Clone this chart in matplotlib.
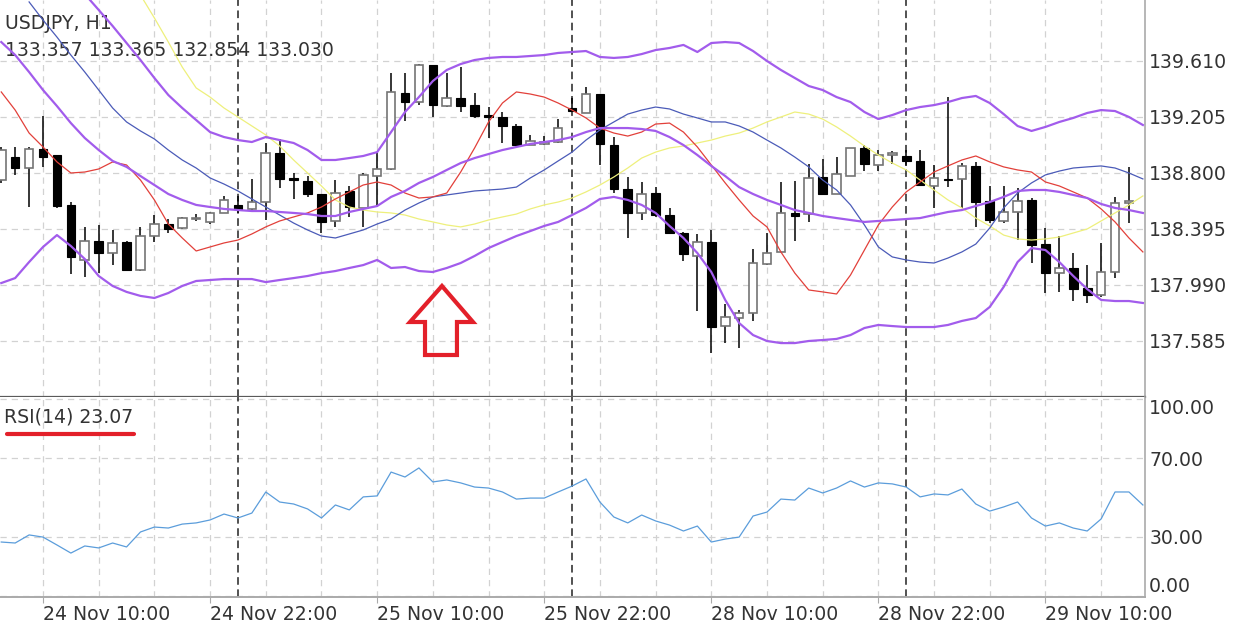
import numpy as np
import matplotlib
matplotlib.use("Agg")
import matplotlib.pyplot as plt
from matplotlib.patches import Polygon
from matplotlib.ticker import MultipleLocator

nan = np.nan

### USDJPY H1 -- bar 0 is 24 Nov 10:00, first bar on screen is 24 Nov 07:00
first_bar = -3

opens = [138.749, 138.915, 138.836, 138.973, 138.930, 138.569, 138.171, 138.308, 138.221, 138.301,
         138.098, 138.344, 138.431, 138.402, 138.467, 138.446, 138.511, 138.569, 138.540, 138.590,
         138.944, 138.764, 138.742, 138.648, 138.453, 138.670, 138.547, 138.778, 138.829, 139.378,
         139.313, 139.581, 139.284, 139.342, 139.291, 139.212, 139.205, 139.140, 139.002, 139.010,
         139.024, 139.270, 139.234, 139.371, 139.002, 138.684, 138.511, 138.655, 138.496, 138.366,
         138.200, 138.301, 137.693, 137.751, 137.787, 138.142, 138.229, 138.511, 138.503, 138.771,
         138.648, 138.778, 138.981, 138.858, 138.930, 138.923, 138.887, 138.706, 138.757, 138.757,
         138.851, 138.598, 138.453, 138.518, 138.605, 138.286, 138.076, 138.113, 137.968, 137.918,
         138.084, 138.583]
highs = [138.988, 138.988, 138.988, 139.212, 138.930, 138.590, 138.410, 138.424, 138.388, 138.308,
         138.410, 138.496, 138.467, 138.482, 138.503, 138.518, 138.634, 138.634, 138.757, 139.017,
         139.046, 138.800, 138.778, 138.648, 138.749, 138.706, 138.800, 138.944, 139.523, 139.523,
         139.588, 139.581, 139.523, 139.566, 139.378, 139.277, 139.241, 139.154, 139.075, 139.067,
         139.190, 139.342, 139.422, 139.371, 139.060, 138.771, 138.735, 138.698, 138.547, 138.373,
         138.359, 138.388, 137.853, 137.809, 138.250, 138.366, 138.735, 138.742, 138.865, 138.901,
         138.915, 138.981, 139.002, 138.966, 138.959, 138.966, 138.966, 138.858, 139.349, 138.872,
         138.880, 138.706, 138.706, 138.692, 138.619, 138.402, 138.344, 138.221, 138.134, 138.294,
         138.627, 138.844]
lows = [138.728, 138.786, 138.554, 138.844, 138.547, 138.069, 138.048, 138.076, 138.134, 138.091,
        138.091, 138.301, 138.366, 138.395, 138.453, 138.431, 138.511, 138.511, 138.532, 138.460,
        138.692, 138.612, 138.627, 138.366, 138.410, 138.482, 138.410, 138.554, 138.822, 139.176,
        139.291, 139.205, 139.277, 139.241, 139.198, 139.053, 139.017, 139.002, 139.002, 139.002,
        139.017, 139.241, 139.234, 138.858, 138.655, 138.330, 138.460, 138.482, 138.359, 138.164,
        137.802, 137.498, 137.570, 137.534, 137.730, 138.134, 138.229, 138.308, 138.446, 138.648,
        138.648, 138.778, 138.814, 138.814, 138.865, 138.851, 138.713, 138.547, 138.698, 138.547,
        138.410, 138.438, 138.438, 138.315, 138.149, 137.932, 137.939, 137.874, 137.860, 137.903,
        138.040, 138.438]
closes = [138.966, 138.836, 138.973, 138.915, 138.561, 138.193, 138.308, 138.221, 138.294, 138.098,
          138.344, 138.431, 138.395, 138.474, 138.474, 138.511, 138.605, 138.540, 138.590, 138.944,
          138.757, 138.749, 138.648, 138.446, 138.655, 138.554, 138.786, 138.829, 139.386, 139.313,
          139.581, 139.291, 139.342, 139.284, 139.212, 139.205, 139.140, 139.002, 139.031, 139.012,
          139.125, 139.248, 139.371, 139.010, 138.684, 138.511, 138.648, 138.496, 138.366, 138.214,
          138.301, 137.686, 137.758, 137.787, 138.149, 138.221, 138.511, 138.489, 138.764, 138.648,
          138.793, 138.981, 138.865, 138.930, 138.932, 138.887, 138.713, 138.764, 138.749, 138.851,
          138.590, 138.460, 138.518, 138.598, 138.279, 138.076, 138.113, 137.961, 137.918, 138.084,
          138.583, 138.586]

# bollinger bands (purple)
bb_upper = [nan, nan, nan, nan, 140.326, 140.210, 140.094, 139.979, 139.863, 139.740,
            139.617, 139.487, 139.364, 139.270, 139.183, 139.096, 139.060, 139.038, 139.024, 139.060,
            139.038, 139.017, 138.966, 138.894, 138.894, 138.908, 138.923, 138.951, 139.096, 139.241,
            139.349, 139.465, 139.545, 139.588, 139.617, 139.632, 139.639, 139.639, 139.646, 139.653,
            139.668, 139.675, 139.682, 139.639, 139.632, 139.639, 139.660, 139.689, 139.704, 139.726,
            139.675, 139.740, 139.747, 139.740, 139.682, 139.610, 139.545, 139.487, 139.429, 139.400,
            139.349, 139.313, 139.241, 139.190, 139.219, 139.255, 139.277, 139.291, 139.313, 139.342,
            139.357, 139.306, 139.226, 139.140, 139.104, 139.133, 139.169, 139.198, 139.234, 139.255,
            139.248, 139.205, 139.147]
bb_mid = [139.747, 139.653, 139.530, 139.400, 139.284, 139.161, 139.053, 138.966, 138.887, 138.844,
          138.778, 138.713, 138.648, 138.605, 138.569, 138.554, 138.540, 138.532, 138.525, 138.525,
          138.518, 138.511, 138.503, 138.489, 138.489, 138.518, 138.540, 138.561, 138.627, 138.670,
          138.728, 138.771, 138.822, 138.872, 138.908, 138.937, 138.966, 138.988, 139.010, 139.024,
          139.038, 139.060, 139.096, 139.125, 139.125, 139.125, 139.118, 139.104, 139.060, 139.002,
          138.930, 138.851, 138.778, 138.698, 138.648, 138.605, 138.569, 138.532, 138.511, 138.489,
          138.474, 138.460, 138.446, 138.453, 138.460, 138.467, 138.474, 138.496, 138.518, 138.532,
          138.561, 138.590, 138.627, 138.670, 138.677, 138.677, 138.663, 138.641, 138.619, 138.576,
          138.547, 138.532, 138.511]
bb_lower = [138.004, 138.040, 138.156, 138.265, 138.351, 138.272, 138.178, 138.055, 137.983, 137.940,
            137.911, 137.896, 137.932, 137.983, 138.019, 138.026, 138.033, 138.033, 138.033, 138.011,
            138.026, 138.040, 138.055, 138.076, 138.091, 138.113, 138.134, 138.171, 138.113, 138.120,
            138.091, 138.084, 138.113, 138.149, 138.200, 138.257, 138.301, 138.344, 138.380, 138.417,
            138.446, 138.496, 138.547, 138.612, 138.627, 138.605, 138.569, 138.511, 138.417, 138.330,
            138.221, 138.084, 137.882, 137.715, 137.628, 137.585, 137.570, 137.570, 137.585, 137.592,
            137.600, 137.628, 137.679, 137.701, 137.693, 137.686, 137.686, 137.686, 137.701, 137.730,
            137.751, 137.831, 137.976, 138.156, 138.257, 138.243, 138.156, 138.055, 137.961, 137.882,
            137.874, 137.874, 137.860]

# moving averages
ma_red = [139.386, 139.255, 139.089, 138.988, 138.880, 138.800, 138.807, 138.829, 138.880, 138.858,
          138.749, 138.605, 138.431, 138.330, 138.236, 138.265, 138.294, 138.315, 138.359, 138.410,
          138.453, 138.482, 138.511, 138.554, 138.612, 138.663, 138.713, 138.735, 138.713, 138.655,
          138.619, 138.627, 138.655, 138.807, 138.981, 139.169, 139.306, 139.386, 139.371, 139.349,
          139.306, 139.255, 139.198, 139.125, 139.089, 139.067, 139.096, 139.154, 139.161, 139.096,
          138.988, 138.858, 138.728, 138.605, 138.489, 138.410, 138.229, 138.076, 137.954, 137.940,
          137.925, 138.062, 138.243, 138.424, 138.554, 138.663, 138.735, 138.807, 138.851, 138.894,
          138.923, 138.880, 138.844, 138.822, 138.807, 138.735, 138.706, 138.663, 138.619, 138.540,
          138.446, 138.330, 138.229]
ma_blue = [nan, nan, 140.037, 139.906, 139.783, 139.653, 139.530, 139.400, 139.270, 139.169,
           139.104, 139.046, 138.966, 138.894, 138.836, 138.764, 138.720, 138.670, 138.612, 138.554,
           138.496, 138.438, 138.388, 138.344, 138.330, 138.359, 138.388, 138.431, 138.467, 138.532,
           138.583, 138.627, 138.641, 138.655, 138.670, 138.677, 138.684, 138.698, 138.764, 138.822,
           138.887, 138.951, 139.038, 139.111, 139.169, 139.226, 139.255, 139.277, 139.263, 139.226,
           139.198, 139.169, 139.169, 139.140, 139.096, 139.038, 138.981, 138.915, 138.844, 138.749,
           138.677, 138.569, 138.424, 138.265, 138.193, 138.171, 138.156, 138.149, 138.185, 138.229,
           138.286, 138.402, 138.547, 138.655, 138.728, 138.786, 138.814, 138.836, 138.844, 138.851,
           138.836, 138.800, 138.757]
ma_yellow = [nan, nan, nan, nan, nan, nan, nan, nan, nan, nan,
             140.087, 139.921, 139.747, 139.566, 139.415, 139.349, 139.270, 139.205, 139.140, 139.075,
             138.995, 138.894, 138.800, 138.706, 138.605, 138.554, 138.532, 138.518, 138.511, 138.496,
             138.467, 138.446, 138.424, 138.410, 138.431, 138.460, 138.482, 138.503, 138.540, 138.569,
             138.590, 138.619, 138.663, 138.713, 138.771, 138.836, 138.908, 138.951, 138.981, 138.995,
             139.017, 139.038, 139.067, 139.089, 139.125, 139.169, 139.205, 139.241, 139.226, 139.190,
             139.133, 139.067, 138.995, 138.930, 138.872, 138.822, 138.749, 138.677, 138.605, 138.547,
             138.474, 138.417, 138.351, 138.323, 138.315, 138.323, 138.337, 138.366, 138.395, 138.453,
             138.511, 138.569, 138.634]

rsi = [27.4, 26.9, 31.0, 29.9, 25.9, 21.8, 25.4, 24.4, 26.9, 24.9,
       32.5, 35.0, 34.5, 36.5, 37.1, 38.6, 41.6, 39.6, 42.1, 52.8,
       47.7, 46.7, 44.2, 39.6, 46.2, 43.7, 50.3, 50.8, 62.9, 60.4,
       65.0, 57.9, 58.9, 57.4, 55.3, 54.8, 52.8, 49.2, 49.7, 49.7,
       52.8, 55.8, 59.4, 47.7, 40.1, 37.1, 41.1, 38.1, 36.0, 33.0,
       35.5, 27.4, 28.9, 29.9, 40.6, 42.6, 49.2, 48.7, 54.8, 52.3,
       54.8, 58.4, 55.3, 57.4, 56.9, 55.3, 50.3, 51.8, 51.3, 54.3,
       46.7, 43.1, 45.2, 47.7, 39.6, 35.5, 37.1, 34.5, 33.0, 39.1,
       52.8, 52.8, 46.2]

tick_bars = [0, 12, 24, 36, 48, 60, 72]
tick_labels = ["24 Nov 10:00", "24 Nov 22:00", "25 Nov 10:00", "25 Nov 22:00",
               "28 Nov 10:00", "28 Nov 22:00", "29 Nov 10:00"]
day_breaks = [14, 38, 62]
price_ticks = [137.585, 137.990, 138.395, 138.800, 139.205, 139.610]
rsi_ticks = [0, 30, 70, 100]

bars = np.arange(first_bar, first_bar + len(opens))
ind_x = np.arange(first_bar, first_bar + len(rsi))

################################################################################
plt.rcParams["font.family"] = ["DejaVu Sans"]
plt.rcParams["font.size"] = 13.6
txt = "#333333"
grid_kw = dict(color="#d2d2d2", linestyle=(0, (5, 4)), linewidth=0.9)

fig = plt.figure(figsize=(12.37, 6.25), dpi=100)
ax = fig.add_axes([0, 0.3648, 0.9256, 0.6352])
ax2 = fig.add_axes([0, 0.0448, 0.9256, 0.32], sharex=ax)

### candles
o = np.array(opens)
c = np.array(closes)
up = c >= o
body_lo = np.minimum(o, c)
body_h = np.maximum(np.abs(c - o), 0.011)
ax.vlines(bars, lows, highs, color="black", linewidth=1.1, zorder=3)
ax.bar(bars[up], body_h[up], bottom=body_lo[up], width=0.62, facecolor="white",
       edgecolor="#747474", linewidth=1.2, zorder=4)
ax.bar(bars[~up], body_h[~up], bottom=body_lo[~up], width=0.62, facecolor="black",
       edgecolor="black", linewidth=0.8, zorder=4)

### indicators
ax.plot(ind_x, ma_yellow, color="#eef07c", linewidth=0.9, zorder=5)
ax.plot(ind_x, ma_blue, color="#4b5bb8", linewidth=0.9, zorder=5)
ax.plot(ind_x, ma_red, color="#e2403a", linewidth=0.9, zorder=5)
for band in (bb_upper, bb_mid, bb_lower):
    ax.plot(ind_x, band, color="#a25cec", linewidth=1.6, zorder=6)

ax2.plot(ind_x, rsi, color="#5b9ddb", linewidth=0.9, zorder=5)

### axes, grids
ax.set_xlim(-3.09, 79.15)
ax.set_ylim(137.180, 140.051)
ax2.set_ylim(-0.5, 101.0)

ax.set_yticks(price_ticks, ["%.3f" % p for p in price_ticks])
ax2.set_yticks(rsi_ticks, ["%.2f" % r for r in rsi_ticks])
ax2.set_xticks(tick_bars, tick_labels)
ax2.xaxis.set_minor_locator(MultipleLocator(4))

for a in (ax, ax2):
    a.yaxis.tick_right()
    a.tick_params(axis="y", length=0, pad=3, labelcolor=txt, labelsize=13.6)
    a.grid(True, which="both", **grid_kw)
    a.tick_params(axis="x", which="minor", length=0)
    a.spines["left"].set_visible(False)
    a.spines["top"].set_visible(False)
    a.spines["right"].set_color("#aaaaaa")
    a.spines["right"].set_linewidth(1.2)
    for d in day_breaks:
        a.axvline(d, color="#222222", linestyle=(0, (5, 3)), linewidth=1.1, zorder=2)
    a.set_axisbelow(True)

ax.tick_params(axis="x", which="both", length=0, labelbottom=False)
ax.spines["bottom"].set_color("#5a5a5a")
ax.spines["bottom"].set_linewidth(1.6)
ax2.spines["bottom"].set_color("#aaaaaa")
ax2.spines["bottom"].set_linewidth(1.4)
ax2.tick_params(axis="x", which="major", length=4, color="#aaaaaa", pad=2, labelcolor=txt,
                labelsize=13.6)
for lab in ax2.get_xticklabels():
    lab.set_ha("left")
ylabs = ax2.get_yticklabels()
ylabs[0].set_va("bottom")
ylabs[-1].set_va("top")

### header texts
ax.text(0.0044, 0.942, "USDJPY, H1", transform=ax.transAxes, color=txt, va="center")
ax.text(0.0044, 0.874, "133.357 133.365 132.854 133.030", transform=ax.transAxes,
        color=txt, va="center")
ax2.text(0.0035, 0.90, "RSI(14) 23.07", transform=ax2.transAxes, color=txt, va="center")
ax2.plot([0.006, 0.117], [0.815, 0.815], transform=ax2.transAxes, color="#e3202a",
         linewidth=3.0, solid_capstyle="round", zorder=7)

### hand drawn arrow
arrow = [(0.3860, 0.2796), (0.4131, 0.1889), (0.3991, 0.1889), (0.3991, 0.1058),
         (0.3712, 0.1058), (0.3712, 0.1889), (0.3581, 0.1889)]
ax.add_patch(Polygon(arrow, closed=True, fill=False, edgecolor="#e3202a", linewidth=3.0,
                     joinstyle="miter", transform=ax.transAxes, zorder=8))

fig.savefig("out.png", dpi=100)
